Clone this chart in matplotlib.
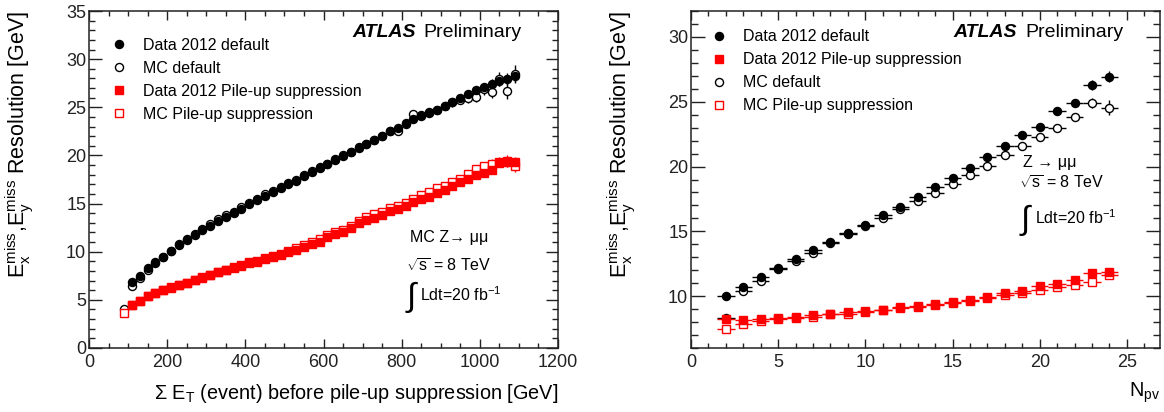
import numpy as np
import matplotlib
matplotlib.use("Agg")
import matplotlib.pyplot as plt
from matplotlib.lines import Line2D
from matplotlib.ticker import MultipleLocator

plt.rcParams['font.family'] = ['Liberation Sans', 'DejaVu Sans']
plt.rcParams['mathtext.fontset'] = 'custom'
plt.rcParams['mathtext.rm'] = 'Liberation Sans'
plt.rcParams['mathtext.it'] = 'Liberation Sans:italic'

# ---- left panel: resolution vs sum ET (bin centres in GeV) ----
sumet_data = np.arange(110, 1100, 20)
sumet_mc = np.arange(90, 1100, 20)

res_data_default = [6.89, 7.48, 8.27, 8.90, 9.48, 10.07, 10.70, 11.20, 11.73, 12.25,
                    12.69, 13.19, 13.64, 13.98, 14.43, 14.95, 15.36, 15.81, 16.16, 16.58,
                    16.99, 17.38, 17.86, 18.24, 18.73, 19.11, 19.53, 19.94, 20.36, 20.81,
                    21.20, 21.60, 22.05, 22.54, 22.89, 23.34, 23.75, 24.14, 24.38, 24.72,
                    25.14, 25.52, 25.93, 26.35, 26.80, 27.08, 27.42, 27.77, 27.95, 28.20]
err_data_default = [0.05, 0.05, 0.05, 0.05, 0.05, 0.05, 0.05, 0.05, 0.05, 0.05,
                    0.05, 0.05, 0.05, 0.05, 0.05, 0.06, 0.06, 0.06, 0.07, 0.07,
                    0.08, 0.08, 0.09, 0.09, 0.10, 0.10, 0.11, 0.12, 0.13, 0.14,
                    0.15, 0.16, 0.17, 0.18, 0.20, 0.21, 0.23, 0.25, 0.27, 0.29,
                    0.31, 0.34, 0.37, 0.40, 0.44, 0.48, 0.52, 0.57, 0.62, 0.70]

res_mc_default = [4.02, 6.47, 7.25, 8.15, 8.85, 9.50, 10.10, 10.80, 11.30, 11.85,
                  12.40, 12.85, 13.35, 13.80, 14.15, 14.60, 15.10, 15.50, 15.95, 16.30,
                  16.70, 17.10, 17.50, 17.95, 18.35, 18.80, 19.15, 19.60, 20.00, 20.40,
                  20.85, 21.20, 21.60, 22.05, 22.50, 22.55, 23.30, 24.27, 24.20, 24.50,
                  24.75, 25.15, 25.50, 25.80, 26.00, 26.10, 26.90, 26.60, 27.95, 26.70,
                  28.50]
err_mc_default = [0.10, 0.08, 0.06, 0.06, 0.06, 0.06, 0.06, 0.06, 0.06, 0.06,
                  0.06, 0.06, 0.06, 0.06, 0.06, 0.07, 0.07, 0.07, 0.08, 0.08,
                  0.09, 0.09, 0.10, 0.10, 0.11, 0.12, 0.13, 0.14, 0.15, 0.16,
                  0.17, 0.18, 0.20, 0.21, 0.23, 0.25, 0.27, 0.29, 0.31, 0.34,
                  0.37, 0.40, 0.44, 0.48, 0.52, 0.56, 0.61, 0.66, 0.72, 0.80,
                  0.90]

res_data_pu = [4.47, 4.91, 5.40, 5.68, 6.02, 6.27, 6.54, 6.79, 7.06, 7.30,
               7.58, 7.86, 8.10, 8.34, 8.55, 8.79, 8.97, 9.21, 9.49, 9.66,
               9.93, 10.18, 10.52, 10.80, 11.04, 11.49, 11.80, 12.01, 12.43, 12.95,
               13.25, 13.55, 13.80, 14.20, 14.40, 14.78, 15.20, 15.44, 15.72, 16.13,
               16.41, 16.82, 17.21, 17.55, 17.97, 18.14, 18.49, 19.18, 19.28, 19.35]
err_data_pu = [0.04, 0.04, 0.04, 0.04, 0.04, 0.04, 0.04, 0.04, 0.04, 0.04,
               0.04, 0.04, 0.04, 0.04, 0.04, 0.05, 0.05, 0.05, 0.05, 0.06,
               0.06, 0.06, 0.07, 0.07, 0.08, 0.08, 0.09, 0.09, 0.10, 0.11,
               0.12, 0.12, 0.13, 0.14, 0.15, 0.16, 0.18, 0.19, 0.20, 0.22,
               0.24, 0.26, 0.28, 0.30, 0.33, 0.36, 0.39, 0.42, 0.46, 0.50]

res_mc_pu = [3.67, 4.50, 4.85, 5.35, 5.70, 6.05, 6.30, 6.55, 6.80, 7.10,
             7.35, 7.60, 7.90, 8.15, 8.40, 8.65, 8.90, 9.05, 9.30, 9.60,
             9.80, 10.05, 10.35, 10.70, 11.00, 11.30, 11.70, 12.05, 12.30, 12.70,
             13.20, 13.60, 13.90, 14.10, 14.50, 14.75, 15.10, 15.50, 15.85, 16.20,
             16.60, 16.85, 17.20, 17.60, 18.05, 18.55, 18.90, 19.10, 19.30, 19.40,
             18.90]
err_mc_pu = [0.08, 0.06, 0.05, 0.05, 0.05, 0.05, 0.05, 0.05, 0.05, 0.05,
             0.05, 0.05, 0.05, 0.05, 0.05, 0.05, 0.06, 0.06, 0.06, 0.06,
             0.07, 0.07, 0.08, 0.08, 0.09, 0.09, 0.10, 0.11, 0.12, 0.13,
             0.14, 0.15, 0.16, 0.17, 0.18, 0.19, 0.21, 0.22, 0.24, 0.26,
             0.28, 0.30, 0.33, 0.36, 0.39, 0.42, 0.46, 0.50, 0.55, 0.60,
             0.66]

# ---- right panel: resolution vs number of primary vertices ----
npv = np.arange(2, 25)

npv_data_default = [10.00, 10.72, 11.44, 12.19, 12.86, 13.55, 14.19, 14.84, 15.48, 16.25,
                    16.90, 17.67, 18.39, 19.14, 19.91, 20.71, 21.58, 22.41, 23.08, 24.31,
                    24.88, 26.29, 26.94]
npv_err_data_default = [0.05, 0.05, 0.05, 0.05, 0.05, 0.05, 0.05, 0.06, 0.06, 0.07,
                        0.07, 0.08, 0.09, 0.10, 0.11, 0.13, 0.15, 0.17, 0.20, 0.24,
                        0.29, 0.36, 0.45]

npv_mc_default = [8.35, 10.39, 11.16, 12.06, 12.70, 13.34, 14.12, 14.76, 15.43, 16.00,
                  16.69, 17.34, 17.98, 18.63, 19.34, 20.06, 20.86, 21.61, 22.28, 23.00,
                  23.82, 24.88, 24.54]
npv_err_mc_default = [0.06, 0.05, 0.05, 0.05, 0.05, 0.05, 0.05, 0.06, 0.06, 0.07,
                      0.07, 0.08, 0.09, 0.10, 0.11, 0.13, 0.15, 0.17, 0.20, 0.24,
                      0.30, 0.40, 0.60]

npv_data_pu = [8.20, 8.15, 8.20, 8.33, 8.40, 8.53, 8.66, 8.74, 8.84, 8.97,
               9.13, 9.25, 9.38, 9.56, 9.74, 9.95, 10.21, 10.41, 10.77, 10.90,
               11.24, 11.75, 11.88]
npv_err_data_pu = [0.04, 0.04, 0.04, 0.04, 0.04, 0.04, 0.04, 0.04, 0.04, 0.05,
                   0.05, 0.05, 0.06, 0.06, 0.07, 0.08, 0.09, 0.10, 0.12, 0.14,
                   0.17, 0.21, 0.26]

npv_mc_pu = [7.50, 7.89, 8.09, 8.22, 8.33, 8.40, 8.59, 8.66, 8.79, 8.92,
             9.05, 9.17, 9.31, 9.44, 9.61, 9.82, 10.08, 10.21, 10.47, 10.67,
             10.83, 11.06, 11.63]
npv_err_mc_pu = [0.05, 0.04, 0.04, 0.04, 0.04, 0.04, 0.04, 0.04, 0.04, 0.05,
                 0.05, 0.05, 0.06, 0.06, 0.07, 0.08, 0.09, 0.10, 0.12, 0.14,
                 0.17, 0.22, 0.30]

legend_left = ['Data 2012 default', 'MC default', 'Data 2012 Pile-up suppression',
               'MC Pile-up suppression']
legend_right = ['Data 2012 default', 'Data 2012 Pile-up suppression', 'MC default',
                'MC Pile-up suppression']

ylabel = r'E$_{\rm x}^{\rm miss}$,E$_{\rm y}^{\rm miss}$ Resolution [GeV]'

fig = plt.figure(figsize=(11.64, 4.12), dpi=100)
ax1 = fig.add_axes([89 / 1164, 1 - 348 / 412, 469 / 1164, 337 / 412])
ax2 = fig.add_axes([691 / 1164, 1 - 348 / 412, 469 / 1164, 337 / 412])

RED = '#ff0000'
STYLE = {
    'data_def': ('o', 'black', True, 5.8),
    'mc_def': ('o', 'black', False, 5.8),
    'data_pu': ('s', RED, True, 5.2),
    'mc_pu': ('s', RED, False, 5.2),
}


def draw(ax, x, y, yerr, xerr, key):
    marker, color, filled, ms = STYLE[key]
    ax.errorbar(x, y, yerr=yerr, xerr=xerr, fmt=marker, color=color, ms=ms,
                mfc=color if filled else 'white', mec=color, mew=1.0,
                elinewidth=1.0, capsize=0, zorder=3)


def style(ax, xmaj, xmin, ymaj, ymin, ymajlen):
    ax.xaxis.set_major_locator(MultipleLocator(xmaj))
    ax.xaxis.set_minor_locator(MultipleLocator(xmin))
    ax.yaxis.set_major_locator(MultipleLocator(ymaj))
    ax.yaxis.set_minor_locator(MultipleLocator(ymin))
    ax.tick_params(which='both', direction='in', top=True, right=True,
                   labelsize=13, colors='#222222', width=1.0)
    ax.tick_params(axis='y', which='major', length=ymajlen, pad=2)
    ax.tick_params(axis='y', which='minor', length=ymajlen / 2)
    ax.tick_params(axis='x', which='major', length=6.5, pad=4)
    ax.tick_params(axis='x', which='minor', length=3.6)
    for s in ax.spines.values():
        s.set_linewidth(1.1)
        s.set_color('#222222')


def legend(ax, keys, labels, x0, y0):
    handles = []
    for k in keys:
        m, c, f, ms = STYLE[k]
        handles.append(Line2D([], [], ls='none', marker=m, color=c, ms=ms,
                              mfc=c if f else 'white', mec=c, mew=1.0))
    ax.legend(handles, labels, loc='upper left', bbox_to_anchor=(x0, y0),
              frameon=False, fontsize=11.5, handlelength=1.0, handletextpad=1.0,
              labelspacing=0.5, borderpad=0, borderaxespad=0)


def annotate(ax, atlas_x, atlas_p, lines):
    ax.text(atlas_x, 0.935, 'ATLAS', transform=ax.transAxes, fontsize=14,
            fontweight='bold', fontstyle='italic', va='center', ha='left')
    ax.text(atlas_p, 0.935, 'Preliminary', transform=ax.transAxes, fontsize=14,
            va='center', ha='left')
    for x, y, s, fs in lines:
        ax.text(x, y, s, transform=ax.transAxes, fontsize=fs, va='center', ha='left')


# left panel (MC drawn first, data on top)
draw(ax1, sumet_mc, res_mc_default, err_mc_default, 10, 'mc_def')
draw(ax1, sumet_mc, res_mc_pu, err_mc_pu, 10, 'mc_pu')
draw(ax1, sumet_data, res_data_default, err_data_default, 10, 'data_def')
draw(ax1, sumet_data, res_data_pu, err_data_pu, 10, 'data_pu')
ax1.set_xlim(0, 1200)
ax1.set_ylim(0, 35)
style(ax1, 200, 50, 5, 1, 9.0)

# right panel
draw(ax2, npv, npv_mc_default, npv_err_mc_default, 0.5, 'mc_def')
draw(ax2, npv, npv_mc_pu, npv_err_mc_pu, 0.5, 'mc_pu')
draw(ax2, npv, npv_data_default, npv_err_data_default, 0.5, 'data_def')
draw(ax2, npv, npv_data_pu, npv_err_data_pu, 0.5, 'data_pu')
ax2.set_xlim(0, 26.9)
ax2.set_ylim(6, 32)
style(ax2, 5, 1, 5, 1, 10.0)

legend(ax1, ['data_def', 'mc_def', 'data_pu', 'mc_pu'], legend_left, 0.047, 0.920)
legend(ax2, ['data_def', 'data_pu', 'mc_def', 'mc_pu'], legend_right, 0.043, 0.946)

annotate(ax1, 0.561, 0.712, [
    (0.684, 0.329, 'MC Z\u2192 \u03bc\u03bc', 11.5),
    (0.676, 0.243, r'$\sqrt{\rm s}$ = 8 TeV', 11.5),
    (0.677, 0.150, '\u222b', 24),
    (0.706, 0.157, r'Ldt=20 fb$^{-1}$', 11.5),
])
annotate(ax2, 0.559, 0.712, [
    (0.708, 0.549, 'Z \u2192 \u03bc\u03bc', 11.5),
    (0.700, 0.487, r'$\sqrt{\rm s}$ = 8 TeV', 11.5),
    (0.702, 0.380, '\u222b', 24),
    (0.733, 0.386, r'Ldt=20 fb$^{-1}$', 11.5),
])

# axis titles, ROOT style (aligned to the axis ends)
for ax in (ax1, ax2):
    ax.text(-0.147, 1.0, ylabel, transform=ax.transAxes, rotation=90,
            rotation_mode='anchor', ha='right', va='center', fontsize=15.5)
ax1.text(1.0, -0.134, r'$\Sigma$ E$_{\rm T}$ (event) before pile-up suppression [GeV]',
         transform=ax1.transAxes, ha='right', va='center', fontsize=14.3)
ax2.text(1.0, -0.134, r'N$_{\rm pv}$', transform=ax2.transAxes, ha='right',
         va='center', fontsize=14.3)

fig.savefig('out.png', dpi=100)
